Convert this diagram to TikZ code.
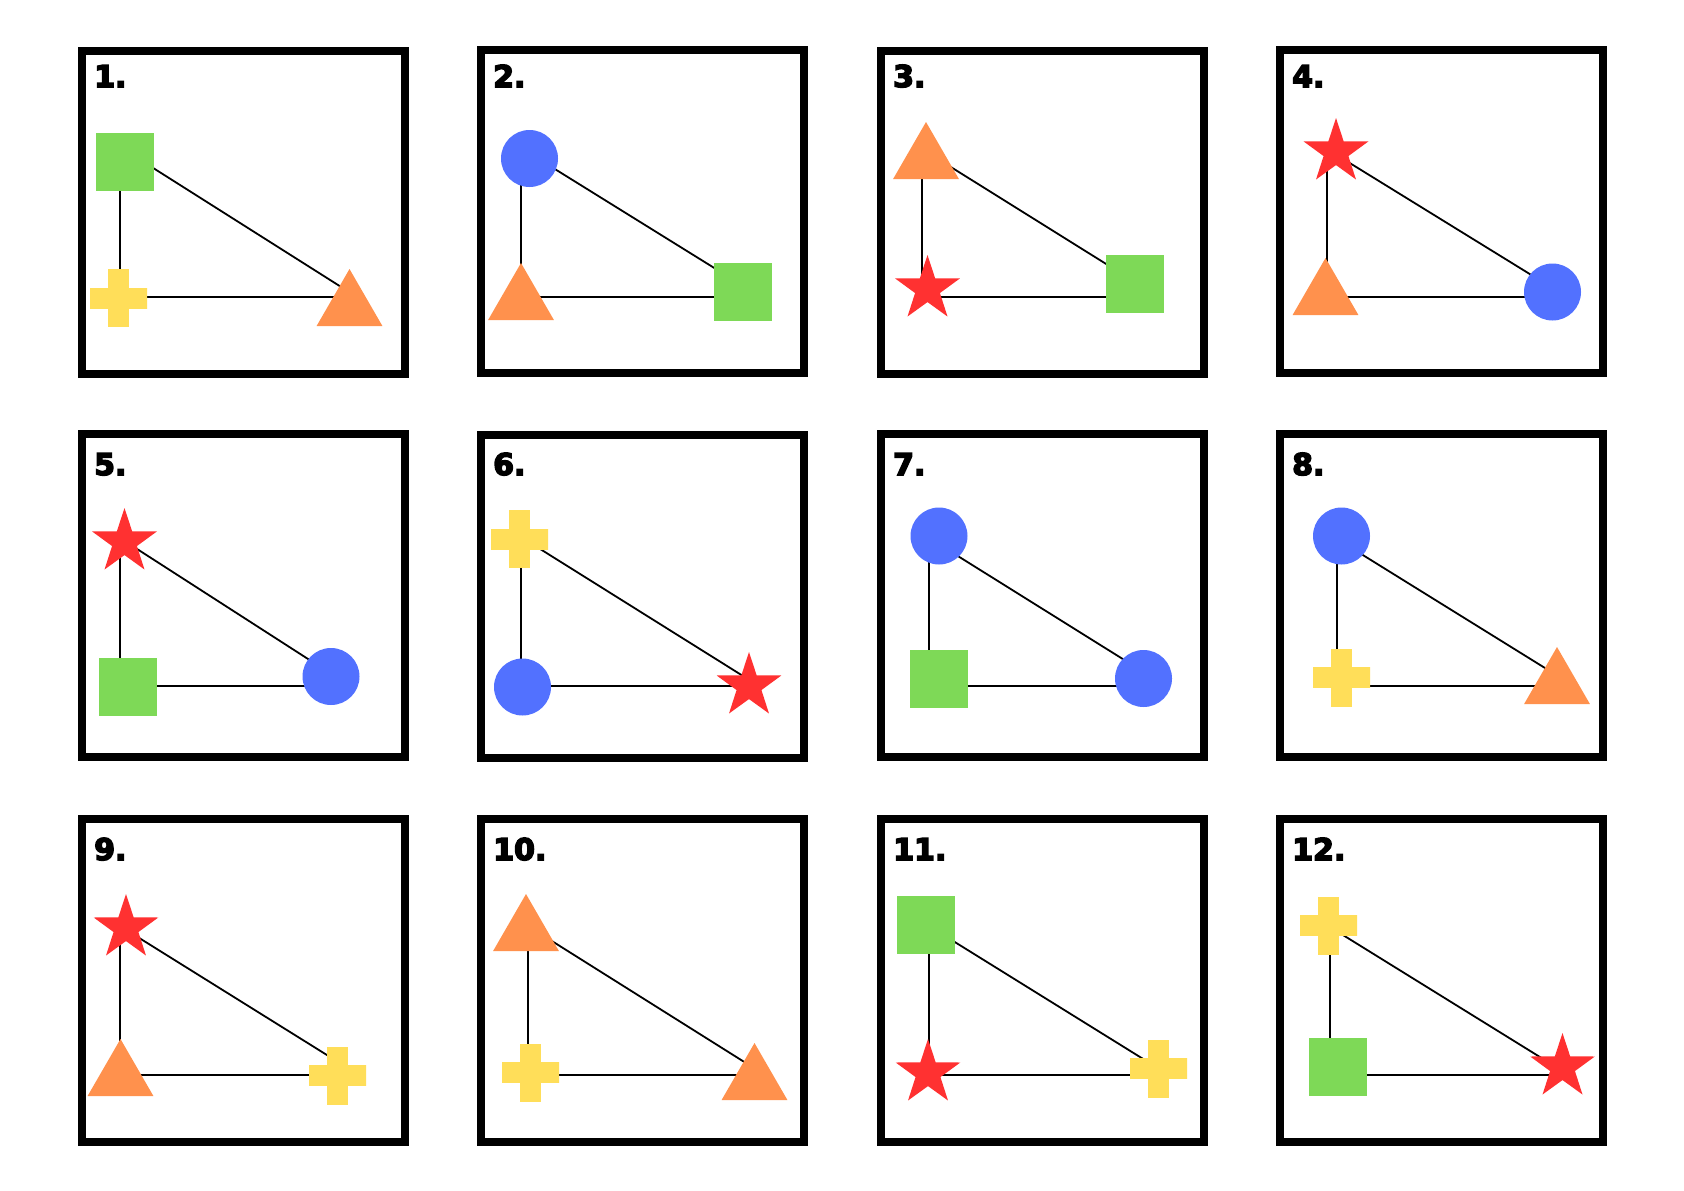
\documentclass[tikz,border=0pt]{standalone}
\usepackage{fontspec}
\newfontfamily\numfont{DejaVu Sans}[BoldFeatures={FakeBold=5}]
\usepackage{tikz}
\usetikzlibrary{shapes.geometric}
\definecolor{sqgreen}{HTML}{7ED957}
\definecolor{dotblue}{HTML}{5271FF}
\definecolor{triorange}{HTML}{FF914D}
\definecolor{plusyellow}{HTML}{FFDE59}
\definecolor{starred}{HTML}{FF3131}
\tikzset{
  frame/.style={line width=8pt},
  link/.style={line width=1.8pt, line join=round},
  num/.style={anchor=base west, inner sep=0pt, font=\numfont\bfseries\fontsize{30}{30}\selectfont},
  greensq/.style={rectangle, fill=sqgreen, minimum size=58pt, inner sep=0pt},
  bluedot/.style={circle, fill=dotblue, minimum size=57pt, inner sep=0pt},
  orangetri/.style={regular polygon, regular polygon sides=3, fill=triorange, minimum size=76pt, inner sep=0pt},
  redstar/.style={star, star points=5, star point ratio=2.6, fill=starred, minimum size=68pt, inner sep=0pt},
  yellowplus/.style={rectangle, minimum size=57pt, inner sep=0pt, path picture={
    \fill[plusyellow] (path picture bounding box.center) ++(-10.5pt,-30pt) rectangle ++(21pt,60pt);
    \fill[plusyellow] (path picture bounding box.center) ++(-30pt,-10.5pt) rectangle ++(60pt,21pt);}}
}
\begin{document}
\begin{tikzpicture}[x=1pt,y=-1pt]
\fill[white] (0,0) rectangle (1684,1191);

\draw[frame] (82,51) rectangle (405,374);
\draw[frame] (481,50) rectangle (804,373);
\draw[frame] (881,51) rectangle (1204,374);
\draw[frame] (1280,50) rectangle (1603,373);
\draw[frame] (82,434) rectangle (405,757);
\draw[frame] (481,435) rectangle (804,758);
\draw[frame] (881,434) rectangle (1204,757);
\draw[frame] (1280,434) rectangle (1603,757);
\draw[frame] (82,819) rectangle (405,1142);
\draw[frame] (481,819) rectangle (804,1142);
\draw[frame] (881,819) rectangle (1204,1142);
\draw[frame] (1280,819) rectangle (1603,1142);

\node[num] (n1) at (94,87) {1.};
\node[num] (n2) at (493,87) {2.};
\node[num] (n3) at (893,87) {3.};
\node[num] (n4) at (1292,87) {4.};
\node[num] (n5) at (94,475) {5.};
\node[num] (n6) at (493,475) {6.};
\node[num] (n7) at (893,475) {7.};
\node[num] (n8) at (1292,475) {8.};
\node[num] (n9) at (94,860) {9.};
\node[num] (n10) at (493,860) {10.};
\node[num] (n11) at (893,860) {11.};
\node[num] (n12) at (1292,860) {12.};

\coordinate (a1) at (120,147);  \coordinate (b1) at (120,297);  \coordinate (c1) at (357,297);
\coordinate (a2) at (521,148);  \coordinate (b2) at (521,297);  \coordinate (c2) at (761,297);
\coordinate (a3) at (922,149);  \coordinate (b3) at (922,297);  \coordinate (c3) at (1159,297);
\coordinate (a4) at (1327,149); \coordinate (b4) at (1327,297); \coordinate (c4) at (1567,297);
\coordinate (a5) at (120,538);  \coordinate (b5) at (120,686);  \coordinate (c5) at (350,686);
\coordinate (a6) at (521,537);  \coordinate (b6) at (521,686);  \coordinate (c6) at (759,686);
\coordinate (a7) at (929,538);  \coordinate (b7) at (929,686);  \coordinate (c7) at (1166,686);
\coordinate (a8) at (1337,539); \coordinate (b8) at (1337,686); \coordinate (c8) at (1574,686);
\coordinate (a9) at (120,926);  \coordinate (b9) at (120,1075); \coordinate (c9) at (359,1075);
\coordinate (a10) at (528,926); \coordinate (b10) at (528,1075); \coordinate (c10) at (765,1075);
\coordinate (a11) at (929,926); \coordinate (b11) at (929,1075); \coordinate (c11) at (1169,1075);
\coordinate (a12) at (1330,927); \coordinate (b12) at (1330,1075); \coordinate (c12) at (1569,1075);

\draw[link] (a1) -- (b1) -- (c1) -- cycle;
\draw[link] (a2) -- (b2) -- (c2) -- cycle;
\draw[link] (a3) -- (b3) -- (c3) -- cycle;
\draw[link] (a4) -- (b4) -- (c4) -- cycle;
\draw[link] (a5) -- (b5) -- (c5) -- cycle;
\draw[link] (a6) -- (b6) -- (c6) -- cycle;
\draw[link] (a7) -- (b7) -- (c7) -- cycle;
\draw[link] (a8) -- (b8) -- (c8) -- cycle;
\draw[link] (a9) -- (b9) -- (c9) -- cycle;
\draw[link] (a10) -- (b10) -- (c10) -- cycle;
\draw[link] (a11) -- (b11) -- (c11) -- cycle;
\draw[link] (a12) -- (b12) -- (c12) -- cycle;

\node[greensq] (s1a) at (125,161.5) {};
\node[yellowplus] (s1b) at (118.5,298) {};
\node[orangetri] (s1c) at (349.5,307) {};

\node[bluedot] (s2a) at (529.5,158.5) {};
\node[orangetri] (s2b) at (521,301) {};
\node[greensq] (s2c) at (742.5,291.5) {};

\node[orangetri] (s3a) at (926,160) {};
\node[redstar] (s3b) at (927.5,289) {};
\node[greensq] (s3c) at (1135,283.5) {};

\node[redstar] (s4a) at (1336,152) {};
\node[orangetri] (s4b) at (1325.5,296) {};
\node[bluedot] (s4c) at (1552.5,292) {};

\node[redstar] (s5a) at (124.5,542) {};
\node[greensq] (s5b) at (128,686.5) {};
\node[bluedot] (s5c) at (331,676.5) {};

\node[yellowplus] (s6a) at (519.5,539) {};
\node[bluedot] (s6b) at (522.5,687) {};
\node[redstar] (s6c) at (749,686) {};

\node[bluedot] (s7a) at (939,536) {};
\node[greensq] (s7b) at (939,679) {};
\node[bluedot] (s7c) at (1143.5,678.5) {};

\node[bluedot] (s8a) at (1341.5,536) {};
\node[yellowplus] (s8b) at (1341.5,677.5) {};
\node[orangetri] (s8c) at (1557,685) {};

\node[redstar] (s9a) at (126,928) {};
\node[orangetri] (s9b) at (120.5,1077) {};
\node[yellowplus] (s9c) at (337.5,1075.5) {};

\node[orangetri] (s10a) at (526,932) {};
\node[yellowplus] (s10b) at (530.5,1072.5) {};
\node[orangetri] (s10c) at (754.5,1081) {};

\node[greensq] (s11a) at (926,924.5) {};
\node[redstar] (s11b) at (928,1073) {};
\node[yellowplus] (s11c) at (1158.5,1068.5) {};

\node[yellowplus] (s12a) at (1328.5,925.5) {};
\node[greensq] (s12b) at (1338,1066.5) {};
\node[redstar] (s12c) at (1562.5,1067) {};

\end{tikzpicture}
\end{document}
